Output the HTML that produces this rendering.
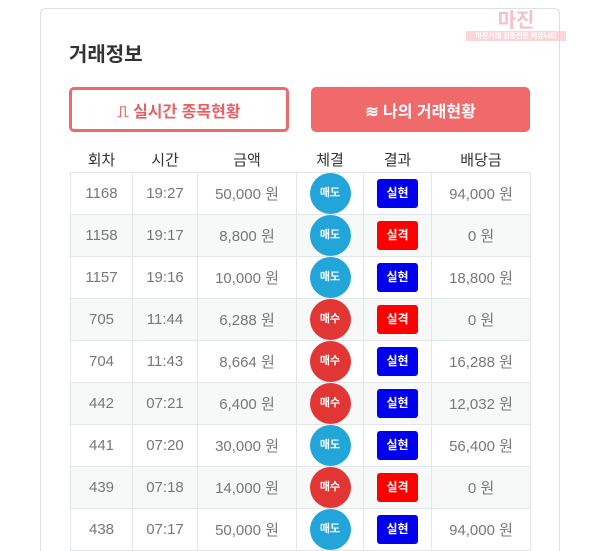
<!DOCTYPE html>
<html><head><meta charset="utf-8"><style>
html,body{margin:0;width:600px;height:551px;background:#fff;overflow:hidden;}
body{font-family:"Liberation Sans","Noto Sans CJK KR",sans-serif;}
.wrap{position:absolute;left:0;top:0;width:600px;height:551px;overflow:hidden;}
.card{position:absolute;left:40px;top:8px;width:520px;height:543px;box-sizing:border-box;border:1px solid #dde0e3;border-bottom:none;border-radius:6px 6px 0 0;}
.title{position:absolute;left:69px;top:38px;font-size:20px;font-weight:bold;color:#333;}
.btn{position:absolute;top:87px;height:45px;border-radius:5px;box-sizing:border-box;font-size:16px;font-weight:bold;display:flex;align-items:center;justify-content:center;}
.b1{left:69px;width:220px;border:3px solid #ec6b6d;color:#e86063;background:#fff;}
.b2{left:311px;width:219px;background:#f16a6b;color:#fff;}
.wm{position:absolute;left:466px;top:4px;width:100px;height:32px;color:#f5a5b0;font-weight:bold;font-size:20px;opacity:.7;text-align:center;}
table{position:absolute;left:70px;top:146px;border-collapse:collapse;font-size:15px;}
th{height:26px;font-weight:normal;color:#333;font-size:15px;padding:0;}
td{height:41px;border:1px solid #e3e6e8;text-align:center;color:#777;padding:0;}
tr.g td{background:#f7f8f8;}
.c{display:inline-block;width:41px;height:41px;border-radius:50%;color:#fff;font-size:11px;font-weight:bold;line-height:41px;vertical-align:middle;}
.s{background:#22a6d9}.bu{background:#e23634}
.k{display:inline-block;width:41px;height:29px;border-radius:3px;color:#fff;font-size:12px;font-weight:bold;line-height:29px;vertical-align:middle;}
.w{background:#0000ee}.l{background:#ff0000}
</style></head><body><div class="wrap">
<div class="card"></div>
<div class="wm">마진<div style="font-size:7px;background:#f8c5cc;color:#fff;margin-top:-2px">마진거래 검증전문 커뮤니티</div></div>
<div class="title">거래정보</div>
<div class="btn b1">⎍ 실시간 종목현황</div>
<div class="btn b2">≋ 나의 거래현황</div>
<table>
<colgroup><col style="width:62px"><col style="width:65px"><col style="width:99px"><col style="width:67px"><col style="width:68px"><col style="width:99px"></colgroup>
<tr><th>회차</th><th>시간</th><th>금액</th><th>체결</th><th>결과</th><th>배당금</th></tr>
<tr><td>1168</td><td>19:27</td><td>50,000 원</td><td><span class="c s">매도</span></td><td><span class="k w">실현</span></td><td>94,000 원</td></tr>
<tr class="g"><td>1158</td><td>19:17</td><td>8,800 원</td><td><span class="c s">매도</span></td><td><span class="k l">실격</span></td><td>0 원</td></tr>
<tr><td>1157</td><td>19:16</td><td>10,000 원</td><td><span class="c s">매도</span></td><td><span class="k w">실현</span></td><td>18,800 원</td></tr>
<tr class="g"><td>705</td><td>11:44</td><td>6,288 원</td><td><span class="c bu">매수</span></td><td><span class="k l">실격</span></td><td>0 원</td></tr>
<tr><td>704</td><td>11:43</td><td>8,664 원</td><td><span class="c bu">매수</span></td><td><span class="k w">실현</span></td><td>16,288 원</td></tr>
<tr class="g"><td>442</td><td>07:21</td><td>6,400 원</td><td><span class="c bu">매수</span></td><td><span class="k w">실현</span></td><td>12,032 원</td></tr>
<tr><td>441</td><td>07:20</td><td>30,000 원</td><td><span class="c s">매도</span></td><td><span class="k w">실현</span></td><td>56,400 원</td></tr>
<tr class="g"><td>439</td><td>07:18</td><td>14,000 원</td><td><span class="c bu">매수</span></td><td><span class="k l">실격</span></td><td>0 원</td></tr>
<tr><td>438</td><td>07:17</td><td>50,000 원</td><td><span class="c s">매도</span></td><td><span class="k w">실현</span></td><td>94,000 원</td></tr>
</table>
</div></body></html>
